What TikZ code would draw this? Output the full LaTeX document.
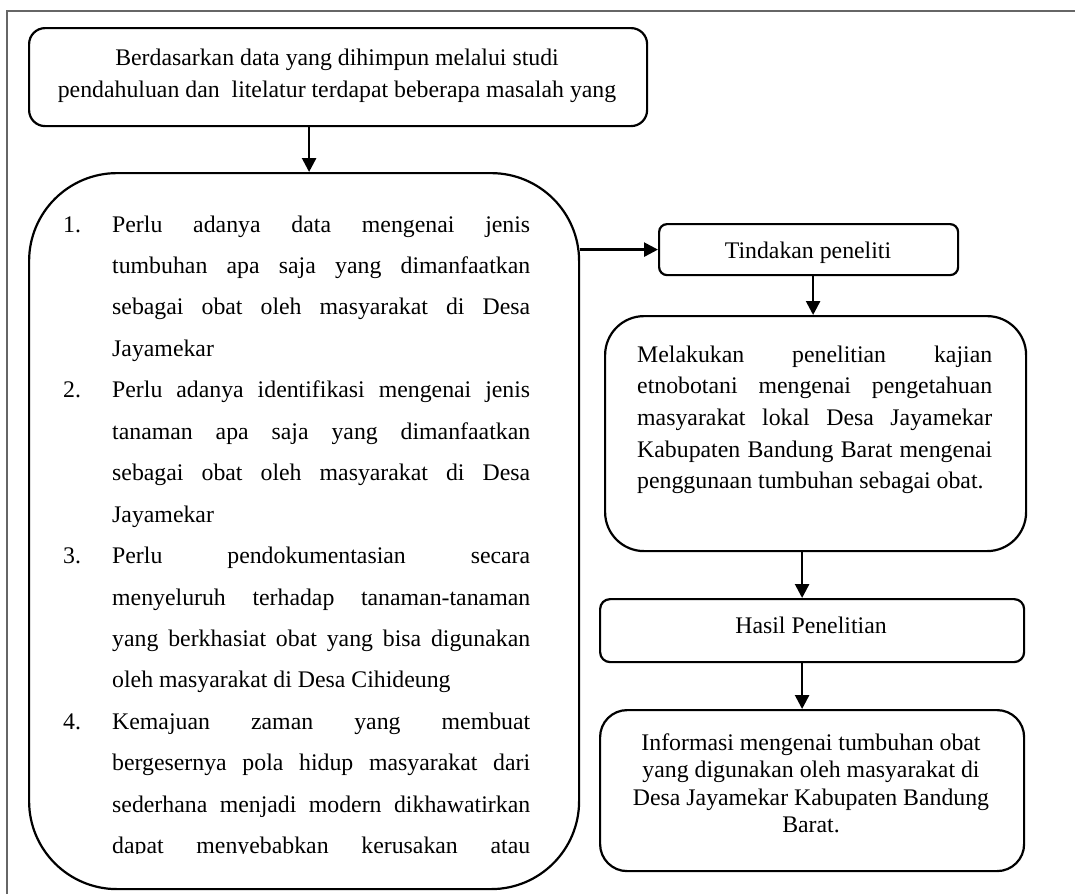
\documentclass[tikz,border=0pt]{standalone}
\usepackage{fontspec}
\setmainfont{Liberation Serif}
\usetikzlibrary{arrows.meta}
\newcommand{\jl}[2]{\makebox[#1][s]{#2}}
\newcommand{\itemnum}[1]{\makebox[49pt][l]{#1}}
\begin{document}
\begin{tikzpicture}[x=1pt,y=-1pt,
  box/.style={draw=black, line width=2.2pt, rounded corners=#1, inner sep=0pt, anchor=north west},
  txt/.style={inner sep=0pt, font=\fontsize{23.8}{#1}\selectfont},
  arr/.style={line width=2.6pt, -{Triangle[width=14pt,length=14pt]}},
  frame/.style={line width=1.5pt, draw=black!60}
]
\useasboundingbox (0,0) rectangle (1075,894);
% outer frame (partially visible)
\draw[frame] (7,894) -- (7,11) -- (1075,11);

% boxes
\node[box=16pt, minimum width=618pt, minimum height=98pt] (topbox) at (28,27) {};
\node[box=88pt, minimum width=550pt, minimum height=716pt] (bigbox) at (28,172) {};
\node[box=8pt, minimum width=299pt, minimum height=51pt] (tind) at (658,223) {};
\node[box=39pt, minimum width=421pt, minimum height=235pt] (kajian) at (604,315) {};
\node[box=10pt, minimum width=424pt, minimum height=63pt] (hasil) at (599,598) {};
\node[box=27pt, minimum width=424pt, minimum height=161pt] (info) at (599,709) {};

% texts
\node[txt=32, anchor=base] (toptext) at (337,65) {\begin{tabular}[t]{@{}c@{}}
Berdasarkan data yang dihimpun melalui studi\\
pendahuluan dan\ \ litelatur terdapat beberapa masalah yang
\end{tabular}};

\begin{scope}
\clip (28,172) rectangle (578,853);
\node[txt=41.45, anchor=base west] (listtext) at (63,232) {\begin{tabular}[t]{@{}l@{}l@{}}
\itemnum{1.} & \jl{418pt}{Perlu adanya data mengenai jenis}\\
\itemnum{} & \jl{418pt}{tumbuhan apa saja yang dimanfaatkan}\\
\itemnum{} & \jl{418pt}{sebagai obat oleh masyarakat di Desa}\\
\itemnum{} & Jayamekar\\
\itemnum{2.} & \jl{418pt}{Perlu adanya identifikasi mengenai jenis}\\
\itemnum{} & \jl{418pt}{tanaman apa saja yang dimanfaatkan}\\
\itemnum{} & \jl{418pt}{sebagai obat oleh masyarakat di Desa}\\
\itemnum{} & Jayamekar\\
\itemnum{3.} & \jl{418pt}{Perlu pendokumentasian secara}\\
\itemnum{} & \jl{418pt}{menyeluruh terhadap tanaman-tanaman}\\
\itemnum{} & \jl{418pt}{yang berkhasiat obat yang bisa digunakan}\\
\itemnum{} & oleh masyarakat di Desa Cihideung\\
\itemnum{4.} & \jl{418pt}{Kemajuan zaman yang membuat}\\
\itemnum{} & \jl{418pt}{bergesernya pola hidup masyarakat dari}\\
\itemnum{} & \jl{418pt}{sederhana menjadi modern dikhawatirkan}\\
\itemnum{} & \jl{418pt}{dapat menyebabkan kerusakan atau}
\end{tabular}};
\end{scope}

\node[txt=28, anchor=base] (tindtext) at (808,258) {Tindakan peneliti};

\node[txt=31.7, anchor=base west] (kajiantext) at (637,362) {\begin{tabular}[t]{@{}l@{}}
\jl{355pt}{Melakukan penelitian kajian}\\
\jl{355pt}{etnobotani mengenai pengetahuan}\\
\jl{355pt}{masyarakat lokal Desa Jayamekar}\\
\jl{355pt}{Kabupaten Bandung Barat mengenai}\\
penggunaan tumbuhan sebagai obat.
\end{tabular}};

\node[txt=28, anchor=base] (hasiltext) at (811,633) {Hasil Penelitian};

\node[txt=27.6, anchor=base] (infotext) at (811,750) {\begin{tabular}[t]{@{}c@{}}
Informasi mengenai tumbuhan obat\\
yang digunakan oleh masyarakat di\\
Desa Jayamekar Kabupaten Bandung\\
Barat.
\end{tabular}};

% connectors
\draw[arr] ([xshift=-29pt]topbox.south) -- ([xshift=5pt]bigbox.north);
\draw[arr] (bigbox.east |- tind.west) -- (tind.west);
\draw[arr] ([xshift=4.5pt]tind.south) -- ([xshift=-2.5pt]kajian.north);
\draw[arr] ([xshift=-13.5pt]kajian.south) -- ([xshift=-10pt]hasil.north);
\draw[arr] ([xshift=-10pt]hasil.south) -- ([xshift=-10pt]info.north);
\end{tikzpicture}
\end{document}
